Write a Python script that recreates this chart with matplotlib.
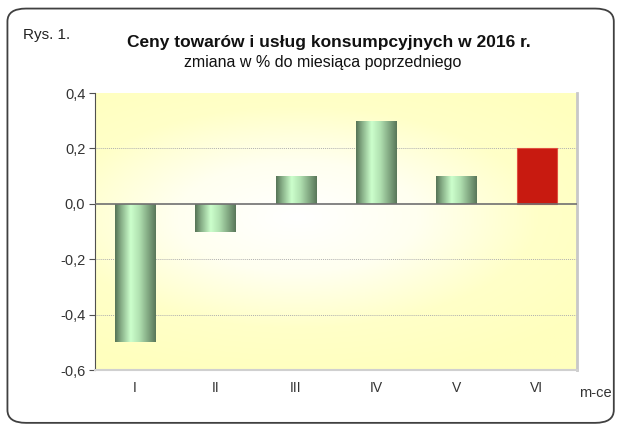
import numpy as np
import matplotlib.pyplot as plt
from matplotlib.colors import LinearSegmentedColormap
from matplotlib.patches import FancyBboxPatch, Rectangle

plt.rcParams['font.family'] = ['Liberation Sans', 'DejaVu Sans']

# data
months = ['I', 'II', 'III', 'IV', 'V', 'VI']
values = [-0.5, -0.1, 0.1, 0.3, 0.1, 0.2]
highlight = [False, False, False, False, False, True]
yticks = [-0.6, -0.4, -0.2, 0.0, 0.2, 0.4]

fig = plt.figure(figsize=(6.2, 4.28), dpi=100)

# rounded frame around the whole figure
frame = FancyBboxPatch((0.012, 0.012), 0.978, 0.968, boxstyle='round,pad=0,rounding_size=0.03',
                       transform=fig.transFigure, fill=False, edgecolor='#404040', linewidth=1.3)
fig.patches.append(frame)

ax = fig.add_axes([0.1532, 0.1355, 0.7774, 0.6472])
ax.set_xlim(-0.5, len(months) - 0.5)
ax.set_ylim(-0.6, 0.4)

# radial background gradient
yy, xx = np.mgrid[0:1:200j, 0:1:300j]
r = np.sqrt(((xx - 0.42) / 0.75) ** 2 + ((yy - 0.55) / 0.6) ** 2)
r = np.clip(r, 0, 1)
bg_cmap = LinearSegmentedColormap.from_list('bg', ['#ffffff', '#fffff0', '#ffffc8', '#ffffbe'])
ax.imshow(r, cmap=bg_cmap, extent=[-0.5, len(months) - 0.5, -0.6, 0.4], origin='lower',
          aspect='auto', zorder=0, vmin=0, vmax=1)

# grid lines
for t in yticks:
    if t not in (0.0, -0.6, 0.4):
        ax.axhline(t, color='#b0b0b0', linestyle=(0, (1, 1)), linewidth=0.7, zorder=1)
ax.axhline(0.0, color='#707070', linewidth=1.2, zorder=3)

# bars with horizontal green gradient
bar_cmap = LinearSegmentedColormap.from_list('bar', [(0, '#577557'), (0.15, '#88b088'),
                                                     (0.38, '#ccffcc'), (0.6, '#b0e0b0'),
                                                     (1, '#5a785a')])
grad = np.linspace(0, 1, 100).reshape(1, -1)
width = 0.5
for i, (v, hl) in enumerate(zip(values, highlight)):
    x0 = i - width / 2
    if hl:
        ax.add_patch(Rectangle((x0, 0), width, v, facecolor='#c81a10', edgecolor='#e05040',
                               linewidth=0.8, zorder=2))
    else:
        im = ax.imshow(grad, cmap=bar_cmap, extent=[x0, x0 + width, min(0, v), max(0, v)],
                       aspect='auto', zorder=2)
        clip = Rectangle((x0, 0), width, v, transform=ax.transData, facecolor='none', edgecolor='none')
        ax.add_patch(clip)
        im.set_clip_path(clip)

ax.set_xlim(-0.5, len(months) - 0.5)
ax.set_ylim(-0.6, 0.4)

ax.set_xticks(range(len(months)))
ax.set_xticklabels(months, fontsize=10, color='#333333')
ax.tick_params(axis='x', length=0, pad=8)
ax.set_yticks(yticks)
ax.set_yticklabels([('%.1f' % t).replace('.', ',') for t in yticks], fontsize=10.5, color='#333333')
ax.tick_params(axis='y', length=4, color='#505050', direction='out', pad=3)

ax.spines['top'].set_visible(False)
ax.spines['left'].set_color('#505050')
ax.spines['right'].set_color('#c8c8c8')
ax.spines['right'].set_linewidth(2)
ax.spines['bottom'].set_color('#d0d0d0')
ax.spines['bottom'].set_linewidth(1.5)

fig.text(0.037, 0.918, 'Rys. 1.', fontsize=11, va='center', color='#222222')
fig.text(0.531, 0.9, 'Ceny towarów i usług konsumpcyjnych w 2016 r.', fontsize=12.5,
         fontweight='bold', ha='center', va='center', color='#111111')
fig.text(0.521, 0.855, 'zmiana w % do miesiąca poprzedniego', fontsize=11.5, ha='center',
         va='center', color='#111111')
fig.text(0.961, 0.082, 'm-ce', fontsize=10.5, ha='center', va='center', color='#333333')

fig.savefig('out.png', dpi=100)
